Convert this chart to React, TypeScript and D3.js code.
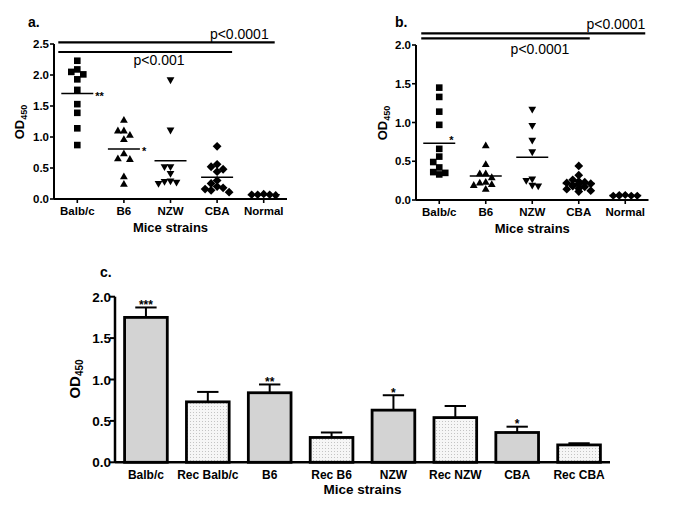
import React from 'react';
import * as d3 from 'd3';

const strains = ['Balb/c', 'B6', 'NZW', 'CBA', 'Normal'];
const shapes = ['square', 'triangle', 'triangleDown', 'diamond', 'diamond'];

// panel a
const aBalbc = [2.23, 2.09, 2.05, 2.01, 1.93, 1.76, 1.53, 1.39, 1.14, 0.87];
const aB6 = [1.27, 1.1, 1.1, 1.03, 0.96, 0.73, 0.65, 0.64, 0.36, 0.24];
const aNZW = [1.92, 1.11, 0.52, 0.52, 0.41, 0.29, 0.28, 0.27, 0.25];
const aCBA = [0.85, 0.56, 0.52, 0.48, 0.44, 0.3, 0.25, 0.2, 0.18, 0.16, 0.14, 0.11];
const aNormal = [0.09, 0.08, 0.08, 0.08, 0.07, 0.07, 0.06, 0.06, 0.06, 0.05];
const aStars = ['**', '*', '', '', ''];
const aTicks = [0, 0.5, 1, 1.5, 2, 2.5];
const aPvalues = ['p<0.0001', 'p<0.001'];

// panel b
const bBalbc = [1.45, 1.33, 1.14, 0.97, 0.66, 0.56, 0.49, 0.42, 0.36, 0.35, 0.33];
const bB6 = [0.7, 0.46, 0.34, 0.34, 0.29, 0.23, 0.22, 0.2, 0.19, 0.14];
const bNZW = [1.17, 0.96, 0.77, 0.62, 0.27, 0.25, 0.19, 0.18];
const bCBA = [0.44, 0.32, 0.26, 0.24, 0.23, 0.22, 0.21, 0.2, 0.19, 0.18, 0.17, 0.15, 0.14, 0.12, 0.11];
const bNormal = [0.07, 0.07, 0.06, 0.06, 0.06, 0.06, 0.05, 0.05, 0.05, 0.05];
const bStars = ['*', '', '', '', ''];
const bTicks = [0, 0.5, 1, 1.5, 2];
const bPvalues = ['p<0.0001', 'p<0.0001'];

// panel c - bar means and SEM
const cLabels = ['Balb/c', 'Rec Balb/c', 'B6', 'Rec B6', 'NZW', 'Rec NZW', 'CBA', 'Rec CBA'];
const cMeans = [1.75, 0.73, 0.84, 0.3, 0.63, 0.54, 0.36, 0.21];
const cErrors = [0.12, 0.12, 0.1, 0.06, 0.18, 0.14, 0.07, 0.02];
const cStars = ['***', '', '**', '', '*', '', '*', ''];
const cTicks = [0, 0.5, 1, 1.5, 2];

const FONT = 'Liberation Sans, Arial, sans-serif';

function markerPath(shape: string, small: boolean) {
  if (shape === 'square') return 'M-3.3,-3.3h6.6v6.6h-6.6Z';
  if (shape === 'triangle') return 'M0,-4.2L3.9,2.6L-3.9,2.6Z';
  if (shape === 'triangleDown') return 'M0,4.2L3.9,-2.6L-3.9,-2.6Z';
  const r = small ? 3.6 : 4.4;
  return `M0,${-r}L${r},0L0,${r}L${-r},0Z`;
}

// simple dodge, like the prism column scatter: points stack in a few columns
function dodge(values: number[], y: (v: number) => number, cx: number, step: number, gap: number) {
  const placed: { x: number; y: number }[] = [];
  const order = values.map((_, i) => i).sort((i, j) => values[j] - values[i]);
  const offs = [0, -1, 1, -2, 2].map(k => k * step);
  order.forEach(i => {
    const py = y(values[i]);
    let best = 0;
    let bestCount = Infinity;
    for (const o of offs) {
      const n = placed.filter(p => Math.abs(p.x - (cx + o)) < step * 0.9 && Math.abs(p.y - py) < gap).length;
      if (n < bestCount) {
        bestCount = n;
        best = o;
      }
      if (n === 0) break;
    }
    placed.push({ x: cx + best, y: py });
  });
  return placed;
}

interface Bracket { y: number; x1: number; x2: number; text: string; tx: number; ty: number; anchor: string }

interface ScatterProps {
  groups: number[][];
  stars: string[];
  ticks: number[];
  xRange: [number, number];
  yRange: [number, number];
  yMax: number;
  letter: string;
  letterX: number;
  titleX: number;
  titleY: number;
  brackets: (x: d3.ScaleBand<string>) => Bracket[];
  starDx: number;
  starDy: number;
}

const ScatterPanel: React.FC<ScatterProps> = p => {
  const x = d3.scaleBand<string>().domain(strains).range(p.xRange);
  const y = d3.scaleLinear().domain([0, p.yMax]).range(p.yRange);
  const cx = (s: string) => (x(s) as number) + x.bandwidth() / 2;
  const [x0, x1] = p.xRange;
  const fmt = d3.format('.1f');
  return (
    <g fontFamily={FONT}>
      <text x={p.letterX} y={27} fontSize={14} fontWeight="bold">{p.letter}</text>
      {p.brackets(x).map((b, i) => (
        <g key={i}>
          <line x1={b.x1} x2={b.x2} y1={b.y} y2={b.y} stroke="#000" strokeWidth={2.2} />
          <text x={b.tx} y={b.ty} fontSize={14} textAnchor={b.anchor}>{b.text}</text>
        </g>
      ))}
      <line x1={x0} x2={x0} y1={p.yRange[0]} y2={p.yRange[1]} stroke="#000" strokeWidth={2} />
      <line x1={x0} x2={x1} y1={p.yRange[0]} y2={p.yRange[0]} stroke="#000" strokeWidth={2} />
      {p.ticks.map(t => (
        <g key={t}>
          <line x1={x0 - 4} x2={x0} y1={y(t)} y2={y(t)} stroke="#000" strokeWidth={1.6} />
          <text x={x0 - 5} y={y(t) + 4} fontSize={11.5} fontWeight="bold" textAnchor="end">{fmt(t)}</text>
        </g>
      ))}
      {strains.map(s => (
        <g key={s}>
          <line x1={cx(s)} x2={cx(s)} y1={p.yRange[0]} y2={p.yRange[0] + 4} stroke="#000" strokeWidth={1.6} />
          <text x={cx(s)} y={p.yRange[0] + 15.5} fontSize={11.5} fontWeight="bold" textAnchor="middle">{s}</text>
        </g>
      ))}
      <text x={(x0 + x1) / 2} y={p.yRange[0] + 33} fontSize={13} fontWeight="bold" textAnchor="middle">Mice strains</text>
      <text transform={`translate(${p.titleX},${p.titleY}) rotate(-90)`} fontSize={13} fontWeight="bold" textAnchor="middle">
        OD<tspan fontSize={9} dy={3}>450</tspan>
      </text>
      {p.groups.map((vals, gi) => {
        const s = strains[gi];
        const pts = dodge(vals, y, cx(s), 6, 6);
        const m = y(d3.mean(vals) as number);
        return (
          <g key={s}>
            {pts.map((pt, i) => (
              <path key={i} d={markerPath(shapes[gi], s === 'Normal')} transform={`translate(${pt.x},${pt.y})`} fill="#000" />
            ))}
            <line x1={cx(s) - 16} x2={cx(s) + 16} y1={m} y2={m} stroke="#000" strokeWidth={1.5} />
            {p.stars[gi] && (
              <text x={cx(s) + 16 + p.starDx} y={m + p.starDy} fontSize={11} fontWeight="bold">{p.stars[gi]}</text>
            )}
          </g>
        );
      })}
    </g>
  );
};

const BarPanel: React.FC = () => {
  const x = d3.scaleBand<string>().domain(cLabels).range([115, 610]).paddingInner(0.31).paddingOuter(0.155);
  const y = d3.scaleLinear().domain([0, 2]).range([462.3, 296.7]);
  const bw = x.bandwidth();
  const fmt = d3.format('.1f');
  return (
    <g fontFamily={FONT}>
      <defs>
        <pattern id="dots" width={3} height={3} patternUnits="userSpaceOnUse">
          <rect width={3} height={3} fill="#f6f6f6" />
          <rect x={1} y={1} width={1} height={1} fill="#c4c4c4" />
        </pattern>
      </defs>
      <text x={100} y={277} fontSize={14} fontWeight="bold">c.</text>
      {cLabels.map((l, i) => {
        const bx = x(l) as number;
        const top = y(cMeans[i]);
        const et = y(cMeans[i] + cErrors[i]);
        const c = bx + bw / 2;
        const rec = l.startsWith('Rec');
        return (
          <g key={l}>
            <line x1={c} x2={c} y1={top} y2={et} stroke="#000" strokeWidth={2} />
            <line x1={c - bw / 4} x2={c + bw / 4} y1={et} y2={et} stroke="#000" strokeWidth={2} />
            <rect x={bx} y={top} width={bw} height={y(0) - top} fill={rec ? 'url(#dots)' : '#d3d3d3'} stroke="#000" strokeWidth={2.8} />
            {cStars[i] && (
              <text x={c} y={et + 1.5} fontSize={12} fontWeight="bold" textAnchor="middle">{cStars[i]}</text>
            )}
            <text x={c} y={479} fontSize={12} fontWeight="bold" textAnchor="middle">{l}</text>
          </g>
        );
      })}
      <line x1={115} x2={115} y1={y(0)} y2={y(2)} stroke="#000" strokeWidth={2.5} />
      <line x1={115} x2={610} y1={y(0)} y2={y(0)} stroke="#000" strokeWidth={2.5} />
      {cTicks.map(t => (
        <g key={t}>
          <line x1={110} x2={115} y1={y(t)} y2={y(t)} stroke="#000" strokeWidth={2} />
          <text x={111} y={y(t) + 5} fontSize={13.5} fontWeight="bold" textAnchor="end">{fmt(t)}</text>
        </g>
      ))}
      <text x={362.5} y={494} fontSize={13.5} fontWeight="bold" textAnchor="middle">Mice strains</text>
      <text transform="translate(80,379) rotate(-90)" fontSize={15} fontWeight="bold" textAnchor="middle">
        OD<tspan fontSize={10} dy={3}>450</tspan>
      </text>
    </g>
  );
};

export default function App() {
  const cxOf = (x: d3.ScaleBand<string>, s: string) => (x(s) as number) + x.bandwidth() / 2;
  return (
    <svg width={685} height={512} style={{ position: 'absolute', left: 0, top: 0, background: '#fff' }}>
      <rect width={685} height={512} fill="#fff" />
      <ScatterPanel
        groups={[aBalbc, aB6, aNZW, aCBA, aNormal]}
        stars={aStars}
        ticks={aTicks}
        xRange={[54, 287]}
        yRange={[199, 44]}
        yMax={2.5}
        letter="a."
        letterX={28}
        titleX={24}
        titleY={122}
        starDx={2}
        starDy={6}
        brackets={x => [
          { y: 42.3, x1: cxOf(x, 'Balb/c') - 19, x2: cxOf(x, 'Normal') + 11, text: aPvalues[0], tx: cxOf(x, 'Normal') + 5, ty: 39, anchor: 'end' },
          { y: 52, x1: cxOf(x, 'Balb/c') - 19, x2: cxOf(x, 'CBA') + 15, text: aPvalues[1], tx: 159, ty: 65, anchor: 'middle' },
        ]}
      />
      <ScatterPanel
        groups={[bBalbc, bB6, bNZW, bCBA, bNormal]}
        stars={bStars}
        ticks={bTicks}
        xRange={[416, 648.5]}
        yRange={[200, 45]}
        yMax={2}
        letter="b."
        letterX={395}
        titleX={387}
        titleY={123}
        starDx={-6}
        starDy={1}
        brackets={x => [
          { y: 33.3, x1: cxOf(x, 'Balb/c') - 18, x2: cxOf(x, 'Normal') + 20, text: bPvalues[0], tx: cxOf(x, 'Normal') + 20, ty: 28.5, anchor: 'end' },
          { y: 38.3, x1: cxOf(x, 'Balb/c') - 18, x2: cxOf(x, 'CBA') + 11, text: bPvalues[1], tx: 540, ty: 53.5, anchor: 'middle' },
        ]}
      />
      <BarPanel />
    </svg>
  );
}
